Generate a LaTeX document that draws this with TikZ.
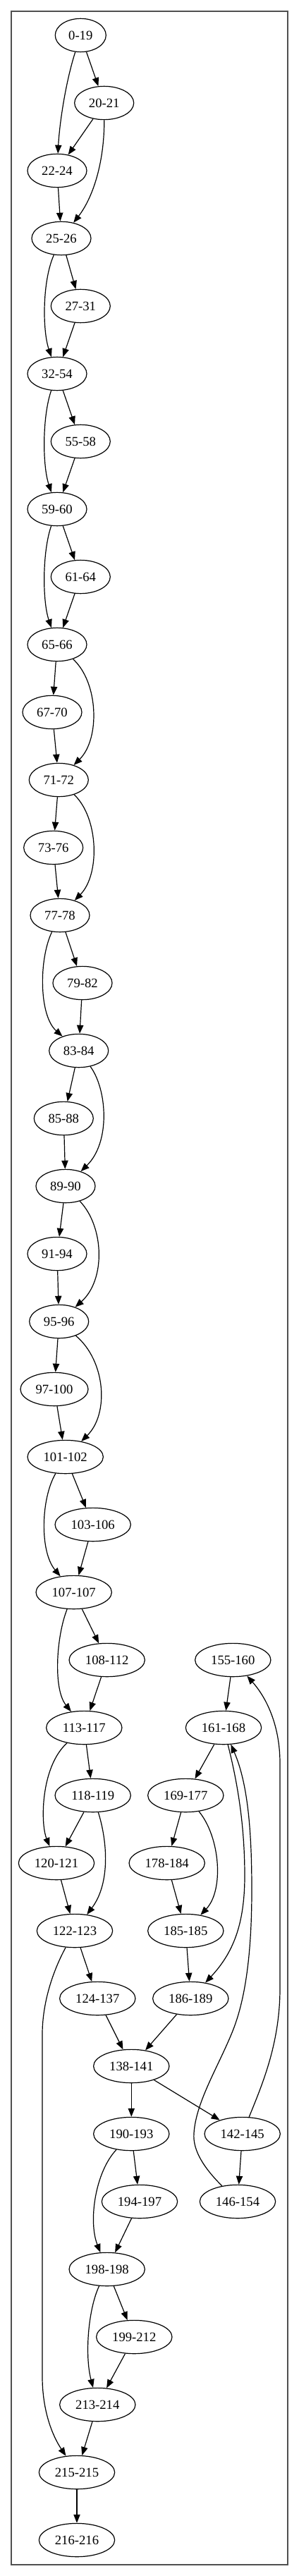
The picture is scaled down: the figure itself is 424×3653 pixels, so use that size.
\documentclass[tikz,border=0pt]{standalone}
\usepackage{fontspec}
\setmainfont{Liberation Serif}
\usetikzlibrary{shapes.geometric,arrows.meta}
\definecolor{framecol}{RGB}{80,80,80}
\begin{document}
\begin{tikzpicture}[x=0.75pt,y=-0.75pt,
  nd/.style={ellipse,draw,line width=0.9pt,minimum height=35.5pt,minimum width=54pt,inner sep=0pt,font=\fontsize{14}{16}\selectfont},
  wv/.style={minimum width=63pt},
  ws/.style={minimum width=72pt},
  wse/.style={minimum width=80.5pt},
  ar/.style={-{Triangle[length=9pt,width=7pt]},line width=0.9pt}]
\useasboundingbox (0,0) rectangle (424,3653);
\draw[framecol,line width=1.3pt] (15.7,15.7) rectangle (407.7,3636.7);
% nodes
\node[nd] (n0) at (114.3,50) {0-19};
\node[nd,wv] (n20) at (147.7,146) {20-21};
\node[nd,wv] (n22) at (81,242) {22-24};
\node[nd,wv] (n25) at (87,338) {25-26};
\node[nd,wv] (n27) at (114.3,434) {27-31};
\node[nd,wv] (n32) at (81,530) {32-54};
\node[nd,wv] (n55) at (114.3,626) {55-58};
\node[nd,wv] (n59) at (81,722) {59-60};
\node[nd,wv] (n61) at (114.3,818) {61-64};
\node[nd,wv] (n65) at (81,914) {65-66};
\node[nd,wv] (n67) at (74,1010) {67-70};
\node[nd,wv] (n71) at (83.3,1106) {71-72};
\node[nd,wv] (n73) at (75.7,1202) {73-76};
\node[nd,wv] (n77) at (85,1298) {77-78};
\node[nd,wv] (n79) at (117,1394) {79-82};
\node[nd,wv] (n83) at (111.7,1490) {83-84};
\node[nd,wv] (n85) at (90.3,1586) {85-88};
\node[nd,wv] (n89) at (93,1682) {89-90};
\node[nd,wv] (n91) at (81,1778) {91-94};
\node[nd,wv] (n95) at (83.7,1874) {95-96};
\node[nd,ws] (n97) at (77,1970) {97-100};
\node[nd,wse] (n101) at (92.7,2066) {101-102};
\node[nd,wse] (n103) at (131.7,2162) {103-106};
\node[nd,wse] (n107) at (104.7,2258) {107-107};
\node[nd,wse] (n108) at (151.7,2354) {108-112};
\node[nd,wse] (n155) at (330.3,2354) {155-160};
\node[nd,wse] (n113) at (119.3,2450) {113-117};
\node[nd,wse] (n161) at (317,2450) {161-168};
\node[nd,wse] (n118) at (131.7,2546) {118-119};
\node[nd,wse] (n169) at (263.3,2546) {169-177};
\node[nd,wse] (n120) at (80,2642) {120-121};
\node[nd,wse] (n178) at (236.7,2642) {178-184};
\node[nd,wse] (n122) at (106,2738) {122-123};
\node[nd,wse] (n185) at (263.3,2738) {185-185};
\node[nd,wse] (n124) at (138.3,2834) {124-137};
\node[nd,wse] (n186) at (270.3,2834) {186-189};
\node[nd,wse] (n138) at (186.3,2930) {138-141};
\node[nd,wse] (n190) at (186.3,3026) {190-193};
\node[nd,wse] (n142) at (343.7,3026) {142-145};
\node[nd,wse] (n194) at (198,3122) {194-197};
\node[nd,wse] (n146) at (337,3122) {146-154};
\node[nd,wse] (n198) at (151.7,3218) {198-198};
\node[nd,wse] (n199) at (190.3,3314) {199-212};
\node[nd,wse] (n213) at (138.3,3410) {213-214};
\node[nd,wse] (n215) at (109,3506) {215-215};
\node[nd,wse] (n216) at (109,3602) {216-216};
% straight edges
\draw[ar] (n0) -- (n20);
\draw[ar] (n20) -- (n22);
\draw[ar] (n22) -- (n25);
\draw[ar] (n25) -- (n27);
\draw[ar] (n27) -- (n32);
\draw[ar] (n32) -- (n55);
\draw[ar] (n55) -- (n59);
\draw[ar] (n59) -- (n61);
\draw[ar] (n61) -- (n65);
\draw[ar] (n65) -- (n67);
\draw[ar] (n67) -- (n71);
\draw[ar] (n71) -- (n73);
\draw[ar] (n73) -- (n77);
\draw[ar] (n77) -- (n79);
\draw[ar] (n79) -- (n83);
\draw[ar] (n83) -- (n85);
\draw[ar] (n85) -- (n89);
\draw[ar] (n89) -- (n91);
\draw[ar] (n91) -- (n95);
\draw[ar] (n95) -- (n97);
\draw[ar] (n97) -- (n101);
\draw[ar] (n101) -- (n103);
\draw[ar] (n103) -- (n107);
\draw[ar] (n107) -- (n108);
\draw[ar] (n108) -- (n113);
\draw[ar] (n113) -- (n118);
\draw[ar] (n118) -- (n120);
\draw[ar] (n120) -- (n122);
\draw[ar] (n122) -- (n124);
\draw[ar] (n124) -- (n138);
\draw[ar] (n186) -- (n138);
\draw[ar] (n138) -- (n190);
\draw[ar] (n138) -- (n142);
\draw[ar] (n190) -- (n194);
\draw[ar] (n194) -- (n198);
\draw[ar] (n198) -- (n199);
\draw[ar] (n199) -- (n213);
\draw[ar] (n213) -- (n215);
\draw[ar] (n215) -- (n216);
\draw[ar] (n155) -- (n161);
\draw[ar] (n161) -- (n169);
\draw[ar] (n169) -- (n178);
\draw[ar] (n178) -- (n185);
\draw[ar] (n185) -- (n186);
\draw[ar] (n142) -- (n146);
% curved edges
\draw[ar] (n0) .. controls (92,120) and (84,180) .. (n22);
\draw[ar] (n20) .. controls (148,230) and (132,280) .. (n25);
\draw[ar] (n25) .. controls (60,398) and (60,468) .. (n32);
\draw[ar] (n32) .. controls (60,590) and (60,660) .. (n59);
\draw[ar] (n59) .. controls (60,782) and (60,852) .. (n65);
\draw[ar] (n65) .. controls (140,968) and (142,1048) .. (n71);
\draw[ar] (n71) .. controls (140,1160) and (142,1240) .. (n77);
\draw[ar] (n77) .. controls (55,1360) and (55,1440) .. (n83);
\draw[ar] (n83) .. controls (152,1545) and (157,1620) .. (n89);
\draw[ar] (n89) .. controls (148,1740) and (150,1815) .. (n95);
\draw[ar] (n95) .. controls (150,1930) and (155,2005) .. (n101);
\draw[ar] (n101) .. controls (58,2125) and (56,2200) .. (n107);
\draw[ar] (n107) .. controls (80,2320) and (75,2395) .. (n113);
\draw[ar] (n113) .. controls (58,2505) and (57,2585) .. (n120);
\draw[ar] (n118) .. controls (152,2610) and (157,2670) .. (n122);
\draw[ar] (n122) .. controls (75,2795) and (60,2840) .. (60,2885) -- (60,3370) .. controls (60,3420) and (75,3455) .. (n215);
\draw[ar] (n190) .. controls (135,3080) and (125,3150) .. (n198);
\draw[ar] (n198) .. controls (125,3275) and (120,3340) .. (n213);
\draw[ar] (n169) .. controls (312,2605) and (318,2680) .. (n185);
\draw[ar] (n161) .. controls (340,2540) and (347,2600) .. (347,2660) .. controls (347,2730) and (330,2770) .. (n186);
\draw[ar] (n146) .. controls (290,3075) and (273,3050) .. (275,3025) .. controls (278,2980) and (310,2930) .. (330,2880) .. controls (350,2830) and (357,2760) .. (357,2680) .. controls (357,2600) and (352,2530) .. (n161);
\draw[ar] (n142) .. controls (370,2960) and (397,2900) .. (397,2820) -- (397,2500) .. controls (397,2450) and (380,2410) .. (n155);
\end{tikzpicture}
\end{document}
